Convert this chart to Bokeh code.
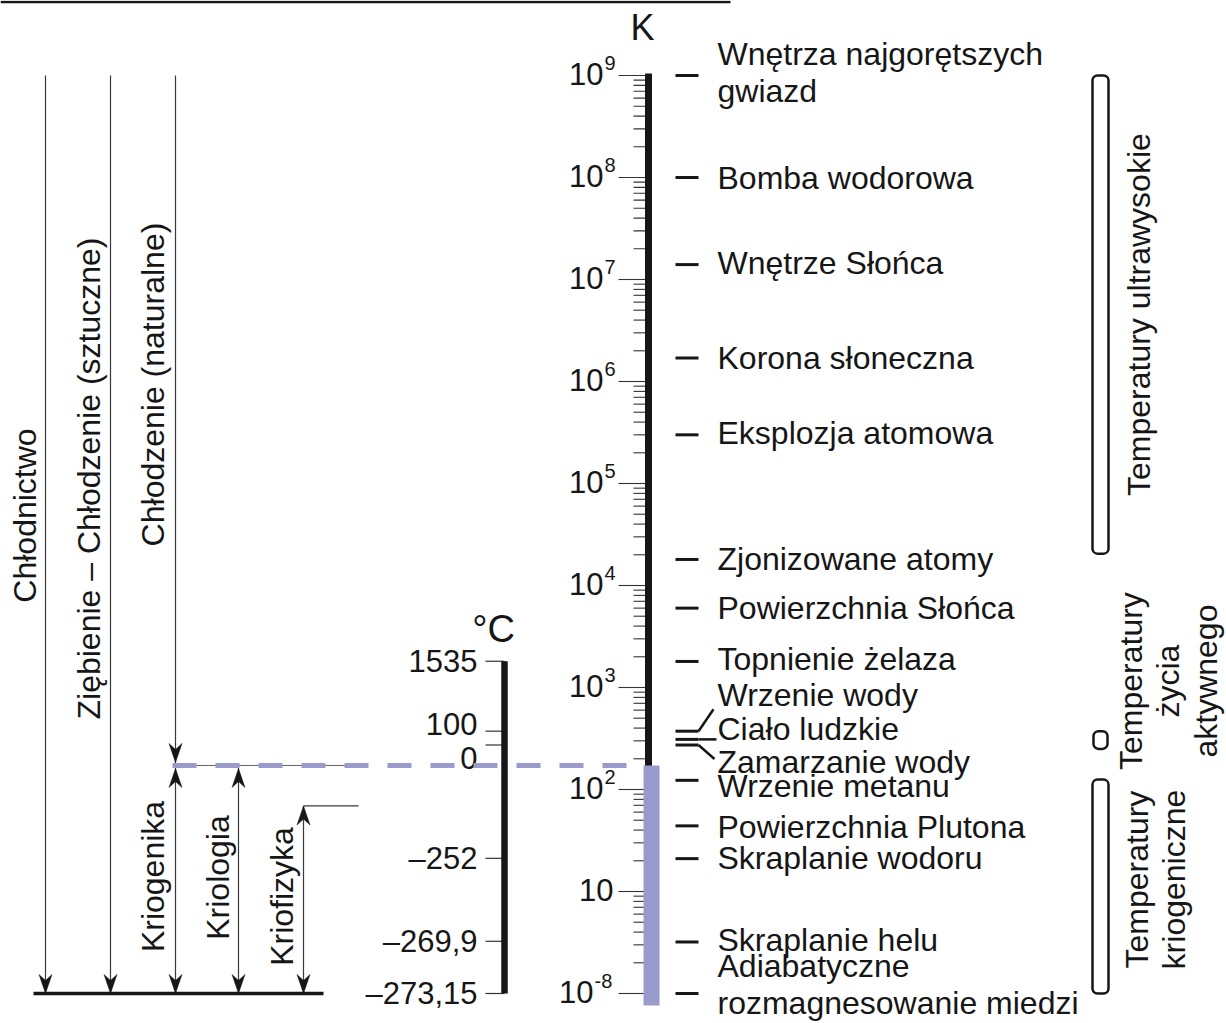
import numpy as np
from bokeh.plotting import figure
from bokeh.models import Range1d
from bokeh.core.properties import value
from bokeh.embed import file_html
from bokeh.resources import INLINE

# ---------------- data ----------------
k_major_values = [1e-8, 1e1, 1e2, 1e3, 1e4, 1e5, 1e6, 1e7, 1e8, 1e9]
k_major_base = ["10"] * 10
k_major_exp = ["-8", "", "2", "3", "4", "5", "6", "7", "8", "9"]

celsius_values = [1535, 100, 0, -252, -269.9, -273.15]
celsius_labels = ["1535", "100", "0", "–252", "–269,9", "–273,15"]
celsius_label_dy = [0, -7, 13, 0, 0, 0]

event_names = [
    "Wnętrza najgorętszych\ngwiazd",
    "Bomba wodorowa",
    "Wnętrze Słońca",
    "Korona słoneczna",
    "Eksplozja atomowa",
    "Zjonizowane atomy",
    "Powierzchnia Słońca",
    "Topnienie żelaza",
    "Wrzenie wody",
    "Ciało ludzkie",
    "Zamarzanie wody",
    "Wrzenie metanu",
    "Powierzchnia Plutona",
    "Skraplanie wodoru",
    "Skraplanie helu",
    "Adiabatyczne\nrozmagnesowanie miedzi",
]
event_kelvin = [1e9, 1e8, 1.4e7, 1.7e6, 3e5, 1.8e4, 6000, 1800,
                373, 310, 273, 123, 44, 21, 3.2, 1e-8]
event_label_dy = [-3, 0, -2, 0, -2, 0, 0, -2, -36, -10, 17, 6, 1, -1, -2, -9]

range_names = ["Temperatury ultrawysokie", "Temperatury\nżycia\naktywnego", "Temperatury\nkriogeniczne"]
range_high_k = [1e9, 373, 125]
range_low_k = [2.05e4, 250, 1e-8]

left_names = ["Chłodnictwo", "Ziębienie – Chłodzenie (sztuczne)", "Chłodzenie (naturalne)",
              "Kriogenika", "Kriologia", "Kriofizyka"]

cryo_boundary_k = 172
kriofizyka_top_k = 69

# ---------------- helpers ----------------
PX = 1 / 102.0             # decade units per reference px
FONT = value("Liberation Sans")
INK = "#161616"
LAV = "#9a9acc"


def pos(k):
    return float(np.log10(k)) if k >= 1 else 0.0


def ref_y(px):
    return (993 - px) * PX


p = figure(width=1226, height=1023,
           x_range=Range1d(0, 1226), y_range=Range1d(ref_y(1023), ref_y(0)),
           output_backend="svg", toolbar_location=None, min_border=0,
           x_axis_location=None, y_axis_location=None)
p.xgrid.visible = False
p.ygrid.visible = False
p.outline_line_color = None
p.background_fill_color = "white"

top_d = pos(k_major_values[-1])
bot_d = pos(k_major_values[0])
cryo_d = pos(cryo_boundary_k)
fiz_d = pos(kriofizyka_top_k)

# top rule
p.line([0, 730], [ref_y(1.5), ref_y(1.5)], line_width=2.5, color=INK)

# ---------------- left: arrows ----------------
vx = [45, 110, 175, 175, 238, 303]
vy0 = [top_d, top_d, top_d, cryo_d, cryo_d, fiz_d]
vy1 = [bot_d, bot_d, cryo_d, bot_d, bot_d, bot_d]
p.segment(x0=vx, y0=vy0, x1=vx, y1=vy1, line_width=1.2, color="#3a3a3a")
p.segment(x0=[303], y0=[fiz_d], x1=[358], y1=[fiz_d], line_width=1.2, color="#3a3a3a")


def head(x, yd, direction):
    # direction -1: pointing down, +1 pointing up
    L, W, N = 19 * PX, 6.5, 13 * PX
    back = -direction
    return ([x, x + W, x, x - W],
            [yd, yd + back * L, yd + back * N, yd + back * L])


heads = [head(45, bot_d, -1), head(110, bot_d, -1), head(175, cryo_d + 3 * PX, -1),
         head(175, bot_d, -1), head(238, bot_d, -1), head(303, bot_d, -1),
         head(175, cryo_d - 3 * PX, 1), head(238, cryo_d - 3 * PX, 1), head(303, fiz_d, 1)]
p.patches(xs=[h[0] for h in heads], ys=[h[1] for h in heads], color=INK, line_width=0.5)

# base line
p.line([33, 323], [bot_d, bot_d], line_width=3.5, color=INK)

# ---------------- Kelvin scale ----------------
minor_k = [m * 10 ** e for e in range(0, 9) for m in range(2, 10)]
minor_d = [pos(k) for k in minor_k]
p.segment(x0=[633] * len(minor_d), y0=minor_d, x1=[648] * len(minor_d), y1=minor_d,
          line_width=1.1, color="#333333")
major_d = [pos(k) for k in k_major_values]
p.segment(x0=[618] * len(major_d), y0=major_d, x1=[648] * len(major_d), y1=major_d,
          line_width=1.1, color="#333333")
p.line([648, 648], [top_d + 2 * PX, bot_d], line_width=7, color=INK)

base_x = [613 - 10 * len(e) for e in k_major_exp]
p.text(x=base_x, y=major_d, text=k_major_base, text_font=FONT, text_font_size="31px",
       text_align="right", text_baseline="middle", text_color=INK, y_offset=-2)
exp_idx = [i for i, e in enumerate(k_major_exp) if e]
p.text(x=[base_x[i] + 1 for i in exp_idx], y=[major_d[i] for i in exp_idx],
       text=[k_major_exp[i] for i in exp_idx], text_font=FONT, text_font_size="20px",
       text_align="left", text_baseline="middle", text_color=INK, y_offset=-13)
p.text(x=[642], y=[ref_y(27)], text=["K"], text_font=FONT, text_font_size="36px",
       text_align="center", text_baseline="middle", text_color=INK)

# ---------------- Celsius scale ----------------
c_d = [pos(c + 273.15) for c in celsius_values]
p.segment(x0=[485] * len(c_d), y0=c_d, x1=[504] * len(c_d), y1=c_d, line_width=1.2, color="#333333")
p.line([504, 504], [c_d[0], bot_d], line_width=6.5, color=INK)
p.text(x=[477] * len(c_d), y=c_d, text=celsius_labels, text_font=FONT, text_font_size="31px",
       text_align="right", text_baseline="middle", text_color=INK,
       y_offset=celsius_label_dy)
p.text(x=[493], y=[ref_y(628)], text=["°C"], text_font=FONT, text_font_size="38px",
       text_align="center", text_baseline="middle", text_color=INK)

# ---------------- events ----------------
ev_d = [pos(k) for k in event_kelvin]
p.segment(x0=[675] * len(ev_d), y0=ev_d, x1=[698] * len(ev_d), y1=ev_d, line_width=3, color=INK)
i_w, i_c, i_z = 8, 9, 10
p.segment(x0=[698, 698, 698],
          y0=[ev_d[i_w], ev_d[i_c], ev_d[i_z]],
          x1=[713, 716, 714],
          y1=[ev_d[i_w] + 22 * PX, ev_d[i_c], ev_d[i_z] - 14 * PX],
          line_width=2.5, color=INK)
p.text(x=[717] * len(ev_d), y=ev_d, text=event_names, text_font=FONT, text_font_size="32px",
       text_align="left", text_baseline="middle", text_color=INK, text_line_height=1.04,
       y_offset=event_label_dy)

# ---------------- cryogenic boundary ----------------
p.line([175, 365], [cryo_d, cryo_d], line_width=1, color="#666666")
p.quad(left=[643], right=[659], bottom=[bot_d - 12 * PX], top=[cryo_d], color=LAV, line_width=0)
p.line([172, 643], [cryo_d, cryo_d], line_width=5, color=LAV, line_dash="24 19")

# ---------------- right brackets ----------------
r_top = [pos(k) for k in range_high_k]
r_bot = [pos(k) for k in range_low_k]
bx0 = [1092, 1093, 1092]
bx1 = [1108, 1107, 1108]
try:
    p.quad(left=bx0, right=bx1, bottom=r_bot, top=r_top, fill_color=None,
           line_color=INK, line_width=2.5, border_radius=5)
except Exception:
    p.quad(left=bx0, right=bx1, bottom=r_bot, top=r_top, fill_color=None,
           line_color=INK, line_width=2.5)

r_mid = [(a + b) / 2 for a, b in zip(r_top, r_bot)]
r_label_dy = [0, -59 * PX, -7 * PX]
p.text(x=[1138, 1168, 1155], y=[m - d for m, d in zip(r_mid, r_label_dy)], text=range_names,
       text_font=FONT, text_font_size="32px", text_align="center", text_baseline="middle",
       angle=np.pi / 2, text_color=INK, text_line_height=1.04)

# ---------------- left rotated labels ----------------
left_x = [24, 88, 152, 152, 217, 281]
left_y = [ref_y(v) for v in [515, 478, 384, 876, 877, 896]]
p.text(x=left_x, y=left_y, text=left_names, text_font=FONT, text_font_size="32px",
       text_align="center", text_baseline="middle", angle=np.pi / 2, text_color=INK)

open("out.html", "w").write(file_html(p, INLINE))
